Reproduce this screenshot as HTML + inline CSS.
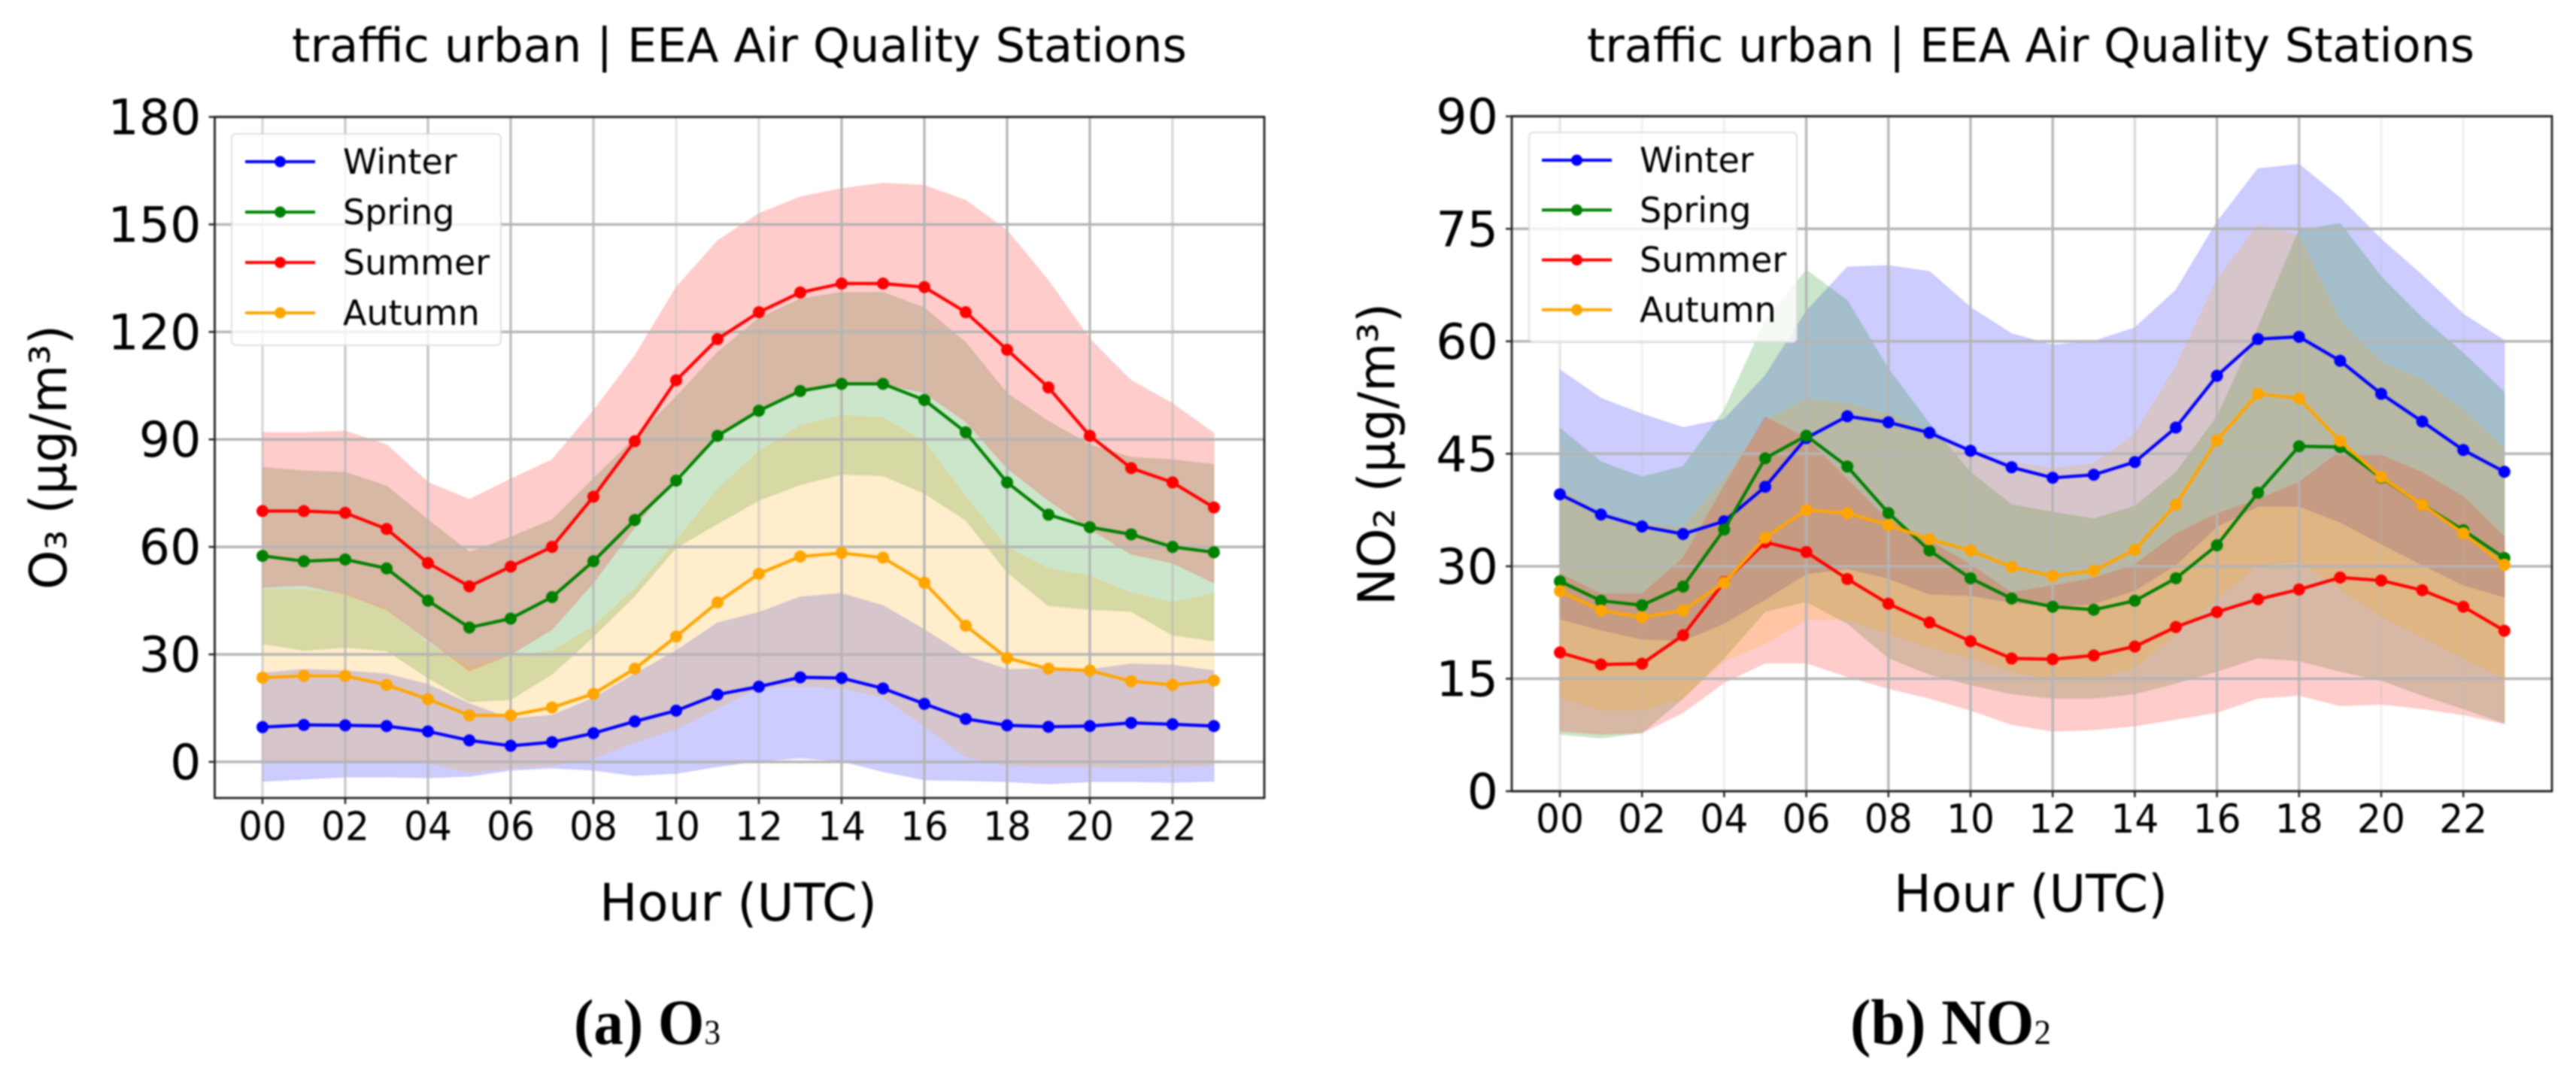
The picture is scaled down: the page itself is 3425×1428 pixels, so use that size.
<!DOCTYPE html>
<html lang="en">
<head>
<meta charset="utf-8">
<title>Traffic urban diurnal cycles of O3 and NO2</title>
<style>
html,body{margin:0;padding:0;background:#fff;}
#figure{display:block;width:3425px;height:1428px;filter:blur(1.1px);}
text{font-family:"DejaVu Sans",sans-serif;fill:#000;}
.caption{font-family:"Liberation Serif",serif;font-weight:bold;}
.sub{font-weight:normal;}
</style>
</head>
<body>
<svg id="figure" xmlns="http://www.w3.org/2000/svg" width="3425" height="1428" viewBox="0 0 3425 1428">
  <g id="panel-a"></g>
  <g id="panel-b"></g>

  <text x="388" y="82" font-size="62" textLength="1190" lengthAdjust="spacingAndGlyphs">traffic urban | EEA Air Quality Stations</text>
  <text x="2110" y="82" font-size="62" textLength="1180" lengthAdjust="spacingAndGlyphs">traffic urban | EEA Air Quality Stations</text>

  <text transform="translate(88 784) rotate(-90)" x="0" y="0" font-size="68" textLength="352" lengthAdjust="spacingAndGlyphs">O₃ (µg/m³)</text>
  <text transform="translate(1854 805) rotate(-90)" x="0" y="0" font-size="68" textLength="402" lengthAdjust="spacingAndGlyphs">NO₂ (µg/m³)</text>

  <text x="797" y="1224" font-size="69" textLength="369" lengthAdjust="spacingAndGlyphs">Hour (UTC)</text>
  <text x="2518" y="1212" font-size="69" textLength="364" lengthAdjust="spacingAndGlyphs">Hour (UTC)</text>

  <text class="caption" x="763" y="1388" font-size="86" textLength="195" lengthAdjust="spacingAndGlyphs">(a) O<tspan class="sub" font-size="47">3</tspan></text>
  <text class="caption" x="2460" y="1388" font-size="86" textLength="267" lengthAdjust="spacingAndGlyphs">(b) NO<tspan class="sub" font-size="47">2</tspan></text>
</svg>

<script>
const hours = ["00","01","02","03","04","05","06","07","08","09","10","11","12","13","14","15","16","17","18","19","20","21","22","23"];
const seasons = ["Winter","Spring","Summer","Autumn"];
const seasonColors = ["#0000ff","#008000","#ff0000","#ffa500"];

const o3Ticks = [0,30,60,90,120,150,180];
const o3WinterMean = [9.7,10.3,10.2,10,8.5,6,4.5,5.5,8,11.3,14.3,18.8,21,23.6,23.4,20.5,16.2,12,10.2,9.8,10,10.9,10.5,10];
const o3WinterUpper = [24.8,25.8,25.4,24.5,21.6,16.2,12,13,17.8,24.5,31,38.8,41.7,46,47,43.6,36.9,29.6,25.8,26,25.8,27.3,27,25.4];
const o3WinterLower = [-5.4,-4.8,-4.2,-4.2,-4.4,-4,-2.3,-1.7,-2.3,-3.8,-3.2,-1.3,0.2,1.1,0.2,-2.7,-5,-5.2,-5.5,-6.1,-5.5,-5.5,-5.7,-5.4];
const o3SpringMean = [57.5,56,56.5,54,45,37.5,40,46,56,67.5,78.5,91,98,103.5,105.5,105.5,101,92,78,69,65.5,63.5,60,58.5];
const o3SpringUpper = [82.2,81.2,80.8,77,67.5,58.5,62.7,67.5,79,90.4,101.9,114.3,123.8,129.2,131,131,126.7,117,102.8,95,88.5,85,84.3,83];
const o3SpringLower = [33,31.1,32,31,23.5,16.8,17.4,24.5,35,46.4,59.8,66.5,73,77.4,80.3,79.9,75,67.5,53,43.6,42.6,42,35.4,33.8];
const o3SummerMean = [70,70,69.5,65,55.5,49,54.5,60,74,89.5,106.5,118,125.5,131,133.5,133.5,132.5,125.5,115,104.5,91,82,78,71];
const o3SummerUpper = [91.9,91.9,92.3,88.5,78,73.2,78.9,84.3,98,113.3,132.4,145.4,153,157.7,160,161.5,160.9,156.7,148.3,134.3,118,106.4,100,91.7];
const o3SummerLower = [48.7,49.3,46.8,42.5,34,25.4,30,37,50,65.5,80,91,98,103.5,105.5,105.5,103,95,82,73,65,58,55.5,50];
const o3AutumnMean = [23.5,24,24,21.5,17.5,13,13,15.2,19,26,35,44.5,52.5,57.3,58.3,57,50,38,29,26,25.5,22.5,21.5,22.7];
const o3AutumnUpper = [48,48,46.8,42.6,33,26.4,29.2,31,37.8,48.3,61.7,76,86.6,93.8,96.7,96,89.4,74,59.8,54,51.8,47.2,44.5,47];
const o3AutumnLower = [-0.4,0,0,0,-0.4,-2.9,-1.7,-1,1,5.4,9.2,15,20.6,21.2,20.6,18,10,1.5,-1,-1.3,-1.3,-1.7,-1.3,-1];

const no2Ticks = [0,15,30,45,60,75,90];
const no2WinterMean = [39.6,36.9,35.3,34.3,36,40.6,47.1,50,49.2,47.8,45.4,43.2,41.8,42.2,43.9,48.5,55.4,60.3,60.6,57.4,53,49.3,45.5,42.6];
const no2WinterUpper = [56.2,52.4,50.3,48.5,49.6,55.4,64,69.9,70.1,69.3,64.5,61,59.5,60,61.8,66.8,75.9,83,83.6,79.1,73.6,68.8,63.6,60.1];
const no2WinterLower = [23,21.5,20.3,20.1,22.4,25.6,29,29.7,28.4,26.3,26.1,25.2,24.6,25,26.8,30.2,35.3,38,38,35.9,33,30.2,27.5,25.9];
const no2SpringMean = [28,25.4,24.8,27.3,34.9,44.4,47.4,43.3,37.1,32.1,28.4,25.7,24.6,24.2,25.4,28.4,32.8,39.8,46,45.9,41.8,38.2,34.8,31.1];
const no2SpringUpper = [48.4,43.9,41.9,43.3,50.8,62.7,69.5,65.4,56.3,49,42.5,38.2,37.2,36.3,38,42.5,49.9,61.8,74.8,75.7,68.6,63.1,58.4,53.2];
const no2SpringLower = [7.6,7.1,7.8,12.4,17.8,24,25.3,22.4,17.8,15.6,14.2,13,12.4,12.4,13,14.4,16,17.8,17.4,16,14.8,12.8,11,9.1];
const no2SummerMean = [18.5,16.9,17,20.8,27.9,33.2,31.9,28.3,25,22.5,20,17.7,17.6,18.1,19.3,21.9,23.9,25.6,26.9,28.5,28.1,26.8,24.6,21.4];
const no2SummerUpper = [29,26.3,26.3,31.1,40.7,49.9,47.1,41.6,36.1,33.4,30.2,26.5,27.4,28.4,30.2,34.3,37,38.9,41.2,45.3,44.8,42.5,39.3,33.9];
const no2SummerLower = [8,7.6,7.8,10.5,14.5,17.1,17.1,15.3,13.7,12.4,10.8,8.9,8,8.2,8.7,9.6,10.5,12.4,12.8,11.4,11.6,11,10.2,9];
const no2AutumnMean = [26.7,24.1,23.2,24.1,27.8,33.8,37.5,37.1,35.5,33.6,32.1,29.9,28.7,29.4,32.2,38.2,46.8,53,52.4,46.7,41.9,38.2,34.4,30.2];
const no2AutumnUpper = [40.5,37,35.7,35.2,41.6,49.4,52.3,51.7,50.3,48,44.8,43.9,43,43.7,47.6,56.7,68.2,75.5,74.1,62.7,57.2,54.9,50.8,45.7];
const no2AutumnLower = [12.5,10.8,10.8,12.4,17.4,19.7,22.9,22.9,21,19.2,17.8,16,14.9,15.1,16.5,21,25.6,30.2,30.6,27,23.3,20.6,17.8,15.1];

const SVGNS = "http://www.w3.org/2000/svg";
function mk(parent, tag) {
  const el = document.createElementNS(SVGNS, tag);
  parent.appendChild(el);
  return el;
}
function setAll(el, props) {
  for (const k in props) el.setAttribute(k, props[k]);
  return el;
}

function drawPanel(root, prefix, g, ticks, bands) {
  const xScale = h => g.x0 + h * g.dx;
  const yScale = v => g.y0 - v * g.dy;

  // shaded bands (drawn first, under grid)
  bands.forEach((b, s) => {
    const upper = b.upper.map((v, i) => xScale(i).toFixed(1) + "," + yScale(v).toFixed(1));
    const lower = b.lower.map((v, i) => xScale(i).toFixed(1) + "," + yScale(v).toFixed(1)).reverse();
    const el = setAll(mk(root, "polygon"), {
      points: upper.concat(lower).join(" "),
      fill: seasonColors[s], "fill-opacity": 0.2,
      stroke: seasonColors[s], "stroke-opacity": 0.08, "stroke-width": 2
    });
    
    
  });

  // gridlines
  ticks.forEach(t => {
    const el = setAll(mk(root, "line"), {
      x1: g.left, x2: g.right, y1: yScale(t), y2: yScale(t),
      stroke: "#b4b4b4", "stroke-width": 3.4
    });
    
    
  });
  hours.forEach((h, i) => {
    if (i % 2) return;
    const el = setAll(mk(root, "line"), {
      x1: xScale(i), x2: xScale(i), y1: g.top, y2: g.bottom,
      stroke: "#b4b4b4", "stroke-width": 3.2, "stroke-opacity": g.gridFade[i / 2]
    });
    
    
  });

  // series lines and markers
  bands.forEach((b, s) => {
    const line = setAll(mk(root, "polyline"), {
      points: b.mean.map((v, i) => xScale(i).toFixed(1) + "," + yScale(v).toFixed(1)).join(" "),
      fill: "none", stroke: seasonColors[s], "stroke-width": 4.2, "stroke-linejoin": "round"
    });
    
    
    b.mean.forEach((v, i) => {
      const pt = setAll(mk(root, "circle"), {
        cx: xScale(i), cy: yScale(v), r: 8, fill: seasonColors[s]
      });
      
      
    });
  });

  // frame
  const frame = setAll(mk(root, "rect"), {
    x: g.left, y: g.top, width: g.right - g.left, height: g.bottom - g.top,
    fill: "none", stroke: "#222", "stroke-width": 2.8
  });
  
  

  // y ticks
  ticks.forEach(t => {
    const mark = setAll(mk(root, "line"), {
      x1: g.left - 8, x2: g.left, y1: yScale(t), y2: yScale(t), stroke: "#222", "stroke-width": 2.5
    });
    
    
    const label = setAll(mk(root, "text"), {
      x: g.left - 18, y: yScale(t) + 23, "text-anchor": "end", "font-size": 65
    });
    label.textContent = String(t);
    
    
  });

  // x ticks
  hours.forEach((h, i) => {
    if (i % 2) return;
    const mark = setAll(mk(root, "line"), {
      x1: xScale(i), x2: xScale(i), y1: g.bottom, y2: g.bottom + 8, stroke: "#222", "stroke-width": 2.5
    });
    
    
    const label = setAll(mk(root, "text"), {
      x: xScale(i), y: g.tickBase, "text-anchor": "middle", "font-size": 53,
      textLength: 64, lengthAdjust: "spacingAndGlyphs"
    });
    label.textContent = h;
    
    
  });

  // legend
  const L = g.legend;
  const legend = mk(root, "g");
  
  
  const box = setAll(mk(legend, "rect"), {
    x: L.x, y: L.y, width: L.w, height: L.h, rx: 6,
    fill: "#ffffff", "fill-opacity": 0.8, stroke: "#d8d8d8", "stroke-opacity": 0.8, "stroke-width": 2
  });
  
  
  seasons.forEach((name, s) => {
    const rowY = L.row0 + s * L.rowGap;
    const sw = setAll(mk(legend, "line"), {
      x1: L.lineX, x2: L.lineX + 93, y1: rowY, y2: rowY, stroke: seasonColors[s], "stroke-width": 4
    });
    
    
    const dot = setAll(mk(legend, "circle"), {
      cx: L.lineX + 46.5, cy: rowY, r: 7.5, fill: seasonColors[s]
    });
    
    
    const txt = setAll(mk(legend, "text"), {
      x: L.textX, y: rowY + 16, "font-size": 46
    });
    txt.textContent = name;
    
    
  });
}

drawPanel(document.getElementById("panel-a"), "o3",
  { left: 285.5, right: 1681, top: 155.5, bottom: 1061, x0: 349, dx: 55, y0: 1013, dy: 4.764, tickBase: 1117,
    gridFade: [0.55,0.75,0.8,0.9,0.8,0.35,0.45,1,1,1,1,0.55],
    legend: { x: 308, y: 178, w: 358, h: 281, row0: 215, rowGap: 67, lineX: 326, textX: 456 } },
  o3Ticks,
  [ { mean: o3WinterMean, upper: o3WinterUpper, lower: o3WinterLower },
    { mean: o3SpringMean, upper: o3SpringUpper, lower: o3SpringLower },
    { mean: o3SummerMean, upper: o3SummerUpper, lower: o3SummerLower },
    { mean: o3AutumnMean, upper: o3AutumnUpper, lower: o3AutumnLower } ]);

drawPanel(document.getElementById("panel-b"), "no2",
  { left: 2010, right: 3393, top: 154.5, bottom: 1052, x0: 2074, dx: 54.6, y0: 1052, dy: 9.97, tickBase: 1107,
    gridFade: [0.35,0.2,0.2,1,1,1,1,0.5,1,0.9,0.2,0.2],
    legend: { x: 2033, y: 176, w: 356, h: 279, row0: 213, rowGap: 66.3, lineX: 2050, textX: 2180 } },
  no2Ticks,
  [ { mean: no2WinterMean, upper: no2WinterUpper, lower: no2WinterLower },
    { mean: no2SpringMean, upper: no2SpringUpper, lower: no2SpringLower },
    { mean: no2SummerMean, upper: no2SummerUpper, lower: no2SummerLower },
    { mean: no2AutumnMean, upper: no2AutumnUpper, lower: no2AutumnLower } ]);
</script>
</body>
</html>
